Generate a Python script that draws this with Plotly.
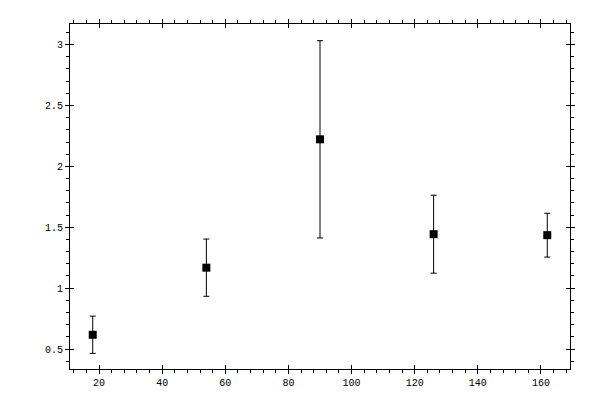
import plotly.graph_objects as go

# data
x_vals = [18, 54, 90, 126, 162]
y_vals = [0.617, 1.168, 2.222, 1.443, 1.435]
y_err = [0.153, 0.235, 0.81, 0.32, 0.18]

fig = go.Figure()

fig.add_trace(go.Scatter(
    x=x_vals, y=y_vals, mode="markers",
    marker=dict(symbol="square", size=8, color="black"),
    error_y=dict(type="data", array=y_err, visible=True,
                 color="black", thickness=1, width=3),
    showlegend=False,
))

# dummy trace so the overlaying axes get drawn
fig.add_trace(go.Scatter(x=[None], y=[None], xaxis="x2", yaxis="y2",
                         showlegend=False, hoverinfo="skip"))

axis_font = dict(family="Liberation Mono, DejaVu Sans Mono, monospace", size=10, color="black")

# page body has an 8px default margin, so the figure is a bit smaller than the window
fig.update_layout(
    width=592, height=392,
    margin=dict(l=62, r=30, t=11, b=30),
    plot_bgcolor="white", paper_bgcolor="white",
    font=axis_font,
    xaxis=dict(range=[10.8, 169.2], tick0=0, dtick=20,
               ticks="outside", ticklen=4, tickwidth=1, tickcolor="black",
               showline=True, linecolor="black", linewidth=1, mirror="allticks",
               showgrid=False, zeroline=False, tickfont=axis_font,
               minor=dict(dtick=4, ticks="outside", ticklen=3, tickcolor="black", showgrid=False)),
    yaxis=dict(range=[0.336, 3.169], tick0=0, dtick=0.5,
               ticks="outside", ticklen=4, tickwidth=1, tickcolor="black",
               showline=True, linecolor="black", linewidth=1, mirror="allticks",
               showgrid=False, zeroline=False, tickfont=axis_font,
               minor=dict(dtick=0.1, ticks="outside", ticklen=3, tickcolor="black", showgrid=False)),
    # inner half of the major ticks
    xaxis2=dict(overlaying="x", matches="x", tick0=0, dtick=20,
                ticks="inside", ticklen=4, tickwidth=1, tickcolor="black",
                mirror="allticks", showline=False, showgrid=False, zeroline=False,
                showticklabels=False),
    yaxis2=dict(overlaying="y", matches="y", tick0=0, dtick=0.5,
                ticks="inside", ticklen=4, tickwidth=1, tickcolor="black",
                mirror="allticks", showline=False, showgrid=False, zeroline=False,
                showticklabels=False),
)

fig.write_html("out.html")
